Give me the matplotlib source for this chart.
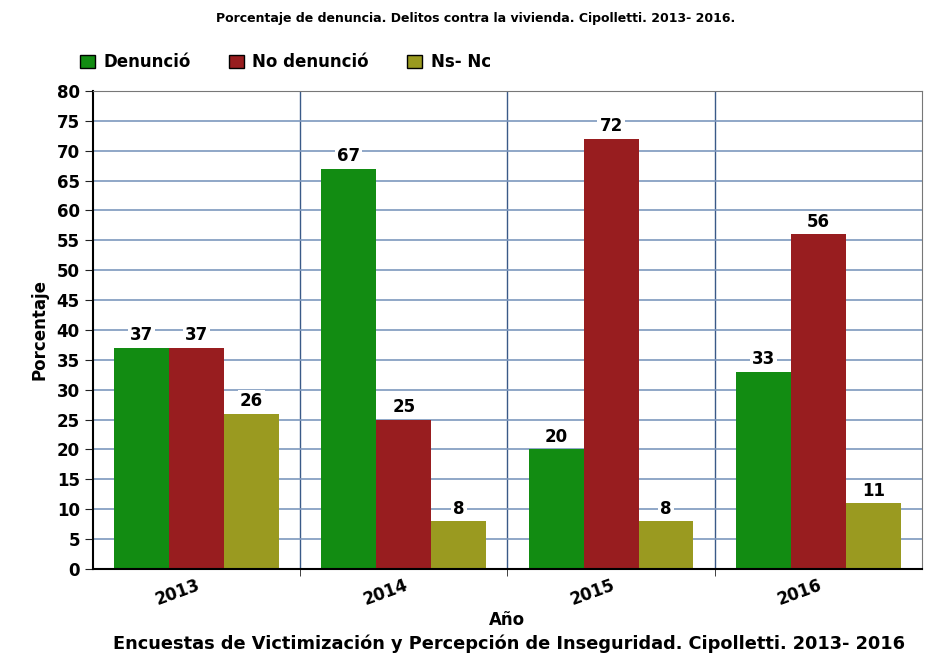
import numpy as np
import matplotlib.pyplot as plt
from matplotlib.patches import Patch

# data
years = ["2013", "2014", "2015", "2016"]
series = ["Denunció", "No denunció", "Ns- Nc"]
denuncio = [37, 67, 20, 33]
no_denuncio = [37, 25, 72, 56]
ns_nc = [26, 8, 8, 11]
colors = ["#128c12", "#981d1f", "#9a9a20"]

plt.rcParams['font.family'] = ['DejaVu Sans']

fig = plt.figure(figsize=(9.28, 6.69), dpi=100)
ax = fig.add_axes([0.1002, 0.1495, 0.8933, 0.7145])

x = np.arange(len(years))
w = 0.265
for k, vals in enumerate([denuncio, no_denuncio, ns_nc]):
    bars = ax.bar(x + (k - 1) * w, vals, width=w, color=colors[k], zorder=2)
    for b, v in zip(bars, vals):
        ax.text(b.get_x() + b.get_width() / 2, v + 0.6, str(v), ha="center", va="bottom",
                fontsize=12, fontweight="bold", zorder=4,
                bbox=dict(facecolor="white", edgecolor="none", pad=1.5))

ax.set_xlim(-0.5, len(years) - 0.5)
ax.set_ylim(0, 80)
ax.set_yticks(np.arange(0, 81, 5))
ax.set_xticks(x)
ax.set_xticklabels(years, rotation=20, fontsize=12, fontweight="bold", ha="right",
                   rotation_mode="anchor")
ax.set_xticks(np.arange(0.5, len(years) - 0.5, 1), minor=True)
ax.tick_params(axis="x", which="major", length=0, pad=5)
ax.tick_params(axis="x", which="minor", length=5, color="#222222")
ax.tick_params(axis="y", length=6, labelsize=12, color="#222222")
for lab in ax.get_yticklabels():
    lab.set_fontweight("bold")

ax.grid(axis="y", color="#7d98bd", linewidth=1.2, zorder=0)
ax.grid(axis="x", which="minor", color="#3a5a88", linewidth=1.0, zorder=0)
ax.set_axisbelow(True)

for s in ["top", "right"]:
    ax.spines[s].set_color("#777777")
ax.spines["left"].set_linewidth(1.5)
ax.spines["bottom"].set_linewidth(1.5)

ax.set_ylabel("Porcentaje", fontsize=12, fontweight="bold", labelpad=6)
ax.set_xlabel("Año", fontsize=12, fontweight="bold", labelpad=2)

fig.text(0.512, 0.972, "Porcentaje de denuncia. Delitos contra la vivienda. Cipolletti. 2013- 2016.",
         ha="center", va="center", fontsize=9, fontweight="bold")
fig.text(0.548, 0.038, "Encuestas de Victimización y Percepción de Inseguridad. Cipolletti. 2013- 2016",
         ha="center", va="center", fontsize=12.8, fontweight="bold")

handles = [Patch(facecolor=c, edgecolor="black", linewidth=1) for c in colors]
fig.legend(handles, series, loc="center left", bbox_to_anchor=(0.07, 0.907), ncol=3,
           frameon=False, prop={"weight": "bold", "size": 12}, handlelength=0.9,
           handleheight=0.9, handletextpad=0.5, columnspacing=2.3)

fig.savefig("out.png", dpi=100)
